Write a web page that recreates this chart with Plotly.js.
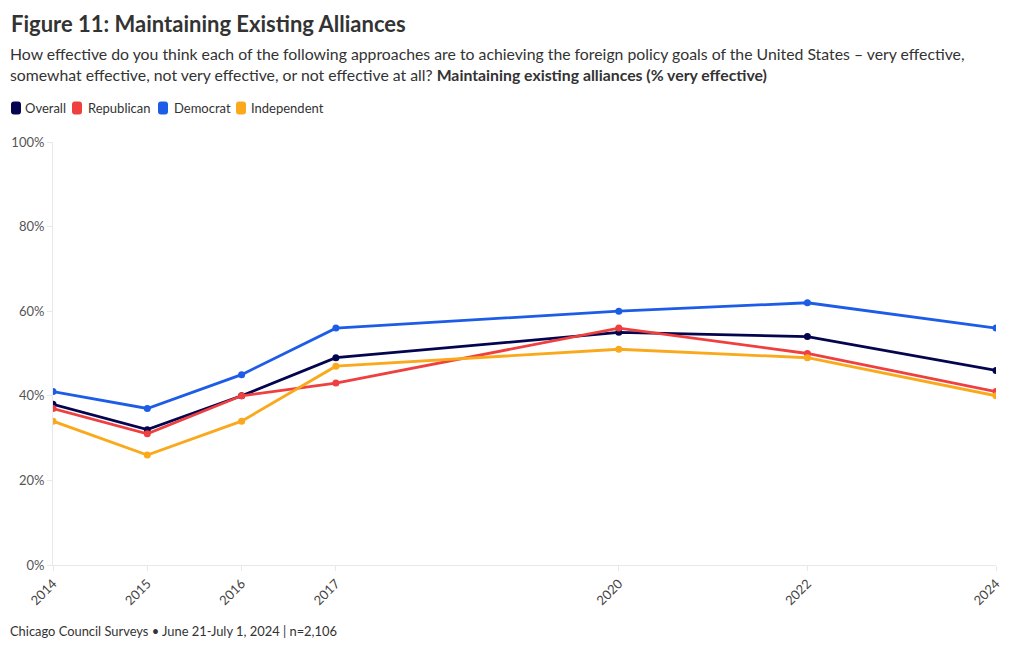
<!DOCTYPE html>
<html>
<head>
<meta charset="utf-8">
<script src="https://cdn.plot.ly/plotly-3.0.1.min.js"></script>
<style>html,body{margin:0;padding:0;background:#fff;}#chart{width:1020px;height:650px;}</style>
</head>
<body>
<div id="chart"></div>
<script>
const years = [2014, 2015, 2016, 2017, 2020, 2022, 2024];
const yTicks = [0, 20, 40, 60, 80, 100];
const yTickLabels = ["0%", "20%", "40%", "60%", "80%", "100%"];
const seriesNames = ["Overall", "Republican", "Democrat", "Independent"];
const overall = [38, 32, 40, 49, 55, 54, 46];
const republican = [37, 31, 40, 43, 56, 50, 41];
const democrat = [41, 37, 45, 56, 60, 62, 56];
const independent = [34, 26, 34, 47, 51, 49, 40];
const colors = ["#05054f", "#ef3f3f", "#1d5ce6", "#f9a91b"];
const values = [overall, republican, democrat, independent];

const FONT = "Lato, 'Noto Sans', sans-serif";
const traces = values.map((v, i) => ({
  x: years, y: v, name: seriesNames[i], type: "scatter", mode: "lines+markers",
  line: {color: colors[i], width: 2.8}, marker: {color: colors[i], size: 7},
  showlegend: false,
  hovertemplate: seriesNames[i] + ": %{y}%<extra></extra>"
}));

// legend layout (pixel positions of swatch centres and text starts)
const legendSwatchX = [16, 77, 163, 241];
const legendTextX = [23, 86, 172, 249];
const legendY = 108;
const swatchPath = "M-2,-6.5 L2,-6.5 Q5,-6.5 5,-3.5 L5,3.5 Q5,6.5 2,6.5 L-2,6.5 Q-5,6.5 -5,3.5 L-5,-3.5 Q-5,-6.5 -2,-6.5 Z";

const annotations = [
  {text: "<b>Figure 11: Maintaining Existing Alliances</b>", px: 9, py: 8, size: 22},
  {text: "How effective do you think each of the following approaches are to achieving the foreign policy goals of the United States – very effective,<br>somewhat effective, not very effective, or not effective at all? <b>Maintaining existing alliances (% very effective)</b>",
   px: 8, py: 42, size: 15.8},
  {text: "Chicago Council Surveys • June 21-July 1, 2024 | n=2,106", px: 8, py: 621, size: 12.9}
].map(a => ({text: a.text, _px: a.px, _py: a.py, xref: "paper", yref: "paper", x: 0, y: 0,
  xanchor: "left", yanchor: "top", align: "left", showarrow: false, font: {size: a.size, color: "#333"}}));

seriesNames.forEach((n, i) => annotations.push({
  text: n, _px: legendTextX[i], _py: legendY, _mid: true, xref: "paper", yref: "paper", x: 0, y: 0,
  xanchor: "left", yanchor: "middle", showarrow: false, font: {size: 13, color: "#333"}
}));

const layout = {
  width: 1020, height: 650,
  margin: {l: 53, r: 24, t: 142, b: 85},
  paper_bgcolor: "#fff", plot_bgcolor: "#fff",
  font: {family: FONT, color: "#333", size: 13},
  showlegend: false,
  xaxis: {
    type: "linear", range: [2014, 2024], tickvals: years, ticktext: years.map(String),
    tickangle: -45, showgrid: false, zeroline: false, showline: true, linecolor: "#e8e8e8",
    ticks: "outside", ticklen: 5, tickcolor: "#e8e8e8", tickfont: {size: 13, color: "#444"}
  },
  yaxis: {
    range: [0, 100], tickvals: yTicks, ticktext: yTickLabels, showgrid: false,
    zeroline: false, showline: true, linecolor: "#e8e8e8", ticks: "outside", ticklen: 5,
    tickcolor: "#e8e8e8", tickfont: {size: 13, color: "#555"}
  },
  annotations: annotations.map(a => { const c = Object.assign({}, a); delete c._px; delete c._py; delete c._mid; return c; })
};

Plotly.newPlot("chart", traces, layout, {displayModeBar: false}).then(gd => {
  const fs = gd._fullLayout._size;
  const toPaperX = px => (px - fs.l) / fs.w;
  const toPaperY = py => (fs.t + fs.h - py) / fs.h;
  const upd = {};
  annotations.forEach((a, i) => {
    upd[`annotations[${i}].x`] = toPaperX(a._px);
    upd[`annotations[${i}].y`] = toPaperY(a._py);
  });
  upd.shapes = colors.map((c, i) => ({
    type: "path", xref: "paper", yref: "paper", xsizemode: "pixel", ysizemode: "pixel",
    xanchor: toPaperX(legendSwatchX[i]), yanchor: toPaperY(legendY),
    path: swatchPath, fillcolor: c, line: {width: 0}
  }));
  Plotly.relayout(gd, upd);
});
</script>
</body>
</html>
